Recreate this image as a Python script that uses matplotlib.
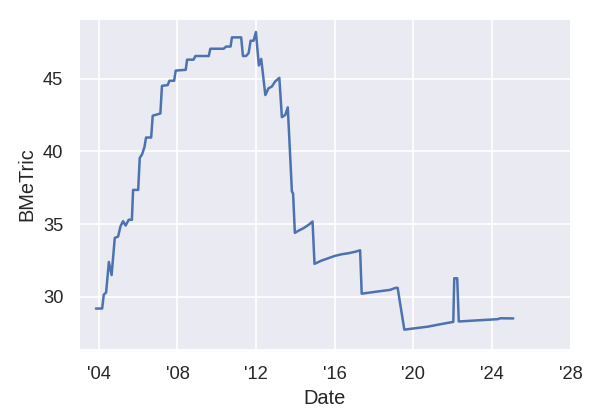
import numpy as np
import pandas as pd
import matplotlib
matplotlib.use("Agg")
import matplotlib.pyplot as plt
import matplotlib.dates as mdates
import seaborn as sns

# ----------------------------------------
# data (decimal year, metric value)
# ----------------------------------------
years = [2003.85, 2004.17, 2004.25, 2004.37, 2004.51, 2004.65, 2004.81, 2004.98,
         2005.10, 2005.23, 2005.36, 2005.52, 2005.68, 2005.74, 2006.00, 2006.08,
         2006.20, 2006.32, 2006.40, 2006.66, 2006.74, 2007.13, 2007.21, 2007.50,
         2007.59, 2007.83, 2007.91, 2008.42, 2008.49, 2008.82, 2008.91, 2009.59,
         2009.67, 2010.35, 2010.47, 2010.70, 2010.77, 2011.24, 2011.33, 2011.49,
         2011.62, 2011.72, 2011.87, 2011.99, 2012.14, 2012.26, 2012.47, 2012.63,
         2012.80, 2012.97, 2013.18, 2013.31, 2013.48, 2013.61, 2013.82, 2013.88,
         2013.97, 2014.16, 2014.41, 2014.67, 2014.87, 2014.97, 2015.34, 2015.68,
         2016.02, 2016.36, 2016.70, 2017.04, 2017.29, 2017.37, 2018.13, 2018.81,
         2019.10, 2019.20, 2019.54, 2020.76, 2021.37, 2021.94, 2022.03, 2022.08,
         2022.23, 2022.31, 2023.05, 2024.31, 2024.40, 2025.08]
bmetric = [29.2, 29.2, 30.15, 30.3, 32.4, 31.5, 34.05, 34.15,
           34.85, 35.2, 34.9, 35.3, 35.3, 37.35, 37.35, 39.55,
           39.8, 40.3, 40.95, 40.95, 42.45, 42.6, 44.5, 44.55,
           44.85, 44.85, 45.55, 45.6, 46.3, 46.3, 46.55, 46.55,
           47.05, 47.05, 47.2, 47.2, 47.83, 47.83, 46.55, 46.55,
           46.75, 47.6, 47.6, 48.2, 45.9, 46.35, 43.87, 44.33,
           44.45, 44.8, 45.05, 42.35, 42.5, 43.02, 37.24, 37.1,
           34.4, 34.55, 34.72, 34.95, 35.18, 32.27, 32.5, 32.66,
           32.82, 32.93, 33.0, 33.1, 33.2, 30.22, 30.36, 30.48,
           30.62, 30.62, 27.75, 27.96, 28.12, 28.26, 28.28, 31.28,
           31.28, 28.31, 28.37, 28.47, 28.53, 28.52]


def to_dates(yrs):
    out = []
    for y in yrs:
        yi = int(np.floor(y))
        out.append(pd.Timestamp(yi, 1, 1) + pd.to_timedelta((y - yi) * 365.25, unit="D"))
    return out


# ----------------------------------------
# draw
# ----------------------------------------
sns.set_theme(style="darkgrid")
plt.rcParams["font.family"] = ["Liberation Sans", "DejaVu Sans"]

fig, ax = plt.subplots(figsize=(5, 3.5), dpi=120)
ax.plot(to_dates(years), bmetric, color="#4c72b0", lw=1.5)

ax.set_xlim(pd.Timestamp("2003-01-01"), pd.Timestamp("2028-01-01"))
ax.set_ylim(26.36, 49.1)
ax.xaxis.set_major_locator(mdates.YearLocator(4))
ax.xaxis.set_major_formatter(mdates.DateFormatter("'%y"))
ax.set_xlabel("Date", fontsize=12)
ax.set_ylabel("BMeTric", fontsize=12)
ax.tick_params(labelsize=11)

fig.subplots_adjust(left=0.132, right=0.951, bottom=0.167, top=0.955)
fig.savefig("out.png", dpi=120)
